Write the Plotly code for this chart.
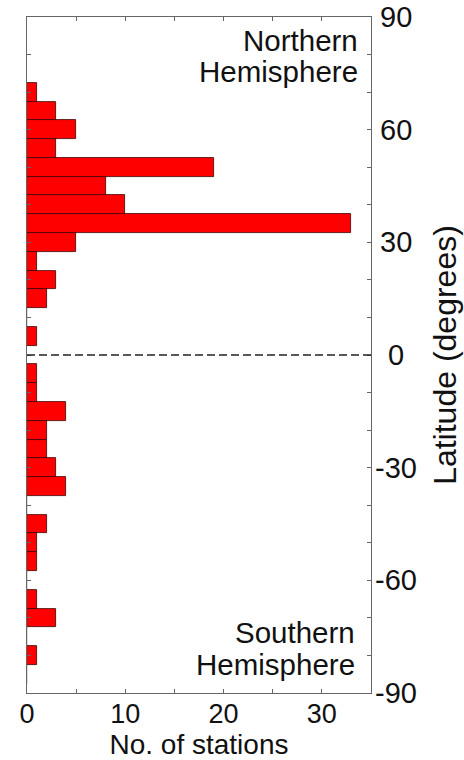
import plotly.graph_objects as go

# Latitude bin centres (degrees) and station counts
latitudes = [70, 65, 60, 55, 50, 45, 40, 35, 30, 25, 20, 15, 10, 5,
             -5, -10, -15, -20, -25, -30, -35, -40, -45, -50, -55, -60, -65, -70, -75, -80, -85]
counts = [1, 3, 5, 3, 19, 8, 10, 33, 5, 1, 3, 2, 0, 1,
          1, 1, 4, 2, 2, 3, 4, 0, 2, 1, 1, 0, 1, 3, 0, 1, 0]

y_tickvals = list(range(-90, 91, 10))
y_labelvals = [-90, -60, -30, 0, 30, 60, 90]
y_labeltext = [str(v) for v in y_labelvals]
x_tickvals = list(range(0, 36, 5))
x_ticktext = [str(v) if v % 10 == 0 else "" for v in x_tickvals]

FONT = "Liberation Sans, Arial, sans-serif"
TXT = "#111111"
AX = "#666666"

fig = go.Figure()
fig.add_trace(go.Bar(
    y=latitudes, x=counts, orientation="h", width=5,
    marker=dict(color="#ff0000", line=dict(color="#3a0000", width=0.8)),
    showlegend=False,
))

fig.add_shape(type="line", xref="paper", yref="y", x0=0, x1=1, y0=0, y1=0,
              line=dict(color="#222222", width=1.3, dash="8px,4px"))

# Hemisphere labels
for txt, yp, xs in [("Northern", 0.9650, -11), ("Hemisphere", 0.9190, -11),
                    ("Southern", 0.0888, -14), ("Hemisphere", 0.0422, -14)]:
    fig.add_annotation(xref="paper", yref="paper", x=1, y=yp, xanchor="right", yanchor="middle",
                       xshift=xs, showarrow=False, text=txt,
                       font=dict(family=FONT, size=29.5, color=TXT))

# Right-hand latitude tick labels (centred, as in the reference)
for v, t in zip(y_labelvals, y_labeltext):
    fig.add_annotation(xref="paper", yref="y", x=1, y=v, xanchor="center", yanchor="middle",
                       xshift=25, showarrow=False, text=t,
                       font=dict(family=FONT, size=29, color=TXT))

fig.update_layout(
    width=464, height=760,
    margin=dict(l=27, r=93, t=17, b=67),
    paper_bgcolor="white", plot_bgcolor="white",
    font=dict(family=FONT, color=TXT),
    bargap=0,
)
fig.update_xaxes(
    range=[0, 35], tickvals=x_tickvals, ticktext=x_ticktext, automargin=False,
    ticks="inside", ticklen=4, tickcolor=AX, ticklabelstandoff=-3,
    showline=True, linecolor=AX, linewidth=1, mirror="ticks",
    showgrid=False, zeroline=False,
    tickfont=dict(size=27, family=FONT, color=TXT),
    title=dict(text="No. of stations", font=dict(size=28, family=FONT, color=TXT), standoff=7),
)
fig.update_yaxes(
    range=[-90, 90], tickvals=y_tickvals, showticklabels=False, side="right", automargin=False,
    ticks="inside", ticklen=4, tickcolor=AX,
    showline=True, linecolor=AX, linewidth=1, mirror="ticks",
    showgrid=False, zeroline=False,
    title=dict(text="Latitude (degrees)", font=dict(size=32, family=FONT, color=TXT), standoff=62),
)

fig.write_html("out.html")
